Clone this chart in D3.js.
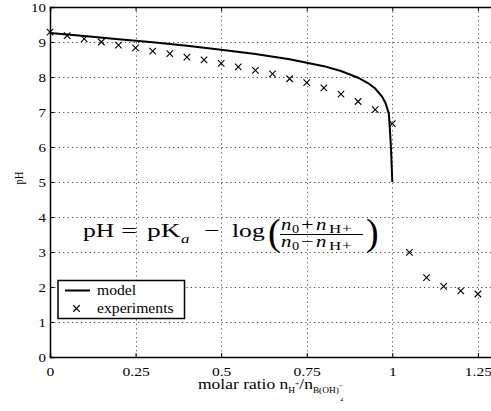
<!DOCTYPE html>
<meta charset="utf-8">
<body style="margin:0">
<script src="https://d3js.org/d3.v7.min.js"></script>
<script>
// experiment points (molar ratio, pH)
var expRatio = [0, 0.05, 0.1, 0.15, 0.2, 0.25, 0.3, 0.35, 0.4, 0.45, 0.5, 0.55, 0.6, 0.65,
                0.7, 0.75, 0.8, 0.85, 0.9, 0.95, 1.0, 1.05, 1.1, 1.15, 1.2, 1.25];
var expPH = [9.28, 9.18, 9.09, 9.0, 8.91, 8.83, 8.74, 8.67, 8.57, 8.49, 8.39, 8.29, 8.19, 8.09,
             7.95, 7.84, 7.69, 7.51, 7.30, 7.07, 6.67, 2.99, 2.27, 2.02, 1.89, 1.80];

// model curve
var modelRatio = [0, 0.1, 0.2, 0.3, 0.4, 0.5, 0.6, 0.7, 0.75, 0.8, 0.85, 0.9, 0.93, 0.95,
                  0.97, 0.98, 0.99, 0.993, 0.996, 1.0];
var modelPH = [9.26, 9.17, 9.08, 8.99, 8.89, 8.78, 8.66, 8.51, 8.41, 8.31, 8.17, 7.98, 7.82, 7.67,
               7.44, 7.26, 6.95, 6.5, 6.0, 5.0];

var xTicks = [0, 0.25, 0.5, 0.75, 1, 1.25];
var xTickLabels = ["0", "0.25", "0.5", "0.75", "1", "1.25"];
var yTicks = [0, 1, 2, 3, 4, 5, 6, 7, 8, 9, 10];

var W = 491, H = 411;
var margin = {top: 7, left: 50, bottom: 54, right: -4};
var iw = W - margin.left - margin.right,
    ih = H - margin.top - margin.bottom;

var svg = d3.select("body").append("svg")
    .attr("width", W)
    .attr("height", H)
    .style("font-family", "'Liberation Serif', 'Times New Roman', serif");

var x = d3.scaleLinear().domain([0, 1.3]).range([margin.left, margin.left + iw]);
var y = d3.scaleLinear().domain([0, 10]).range([margin.top + ih, margin.top]);

// dotted grid
svg.append("g").selectAll("line").data(xTicks.slice(1)).enter().append("line")
    .attr("x1", function(d) { return Math.round(x(d)) + 0.5; })
    .attr("x2", function(d) { return Math.round(x(d)) + 0.5; })
    .attr("y1", margin.top).attr("y2", margin.top + ih)
    .attr("stroke", "#555").attr("stroke-width", 1)
    .attr("stroke-dasharray", "1.2,3.2");
svg.append("g").selectAll("line").data(yTicks.slice(1, -1)).enter().append("line")
    .attr("y1", function(d) { return Math.round(y(d)) + 0.5; })
    .attr("y2", function(d) { return Math.round(y(d)) + 0.5; })
    .attr("x1", margin.left).attr("x2", W)
    .attr("stroke", "#444").attr("stroke-width", 1)
    .attr("stroke-dasharray", "1.2,3.2");

// axes with inward ticks
var xAxis = svg.append("g")
    .attr("transform", "translate(0," + (margin.top + ih) + ")")
    .call(d3.axisBottom(x).tickValues(xTicks).tickSize(-4).tickPadding(7)
      .tickFormat(function(d, i) { return xTickLabels[i]; }));
var xTop = svg.append("g")
    .attr("transform", "translate(0," + margin.top + ")")
    .call(d3.axisTop(x).tickValues(xTicks).tickSize(-4).tickFormat(""));
var yAxis = svg.append("g")
    .attr("transform", "translate(" + margin.left + ",0)")
    .call(d3.axisLeft(y).tickValues(yTicks).tickSize(-4).tickPadding(5));
var yRight = svg.append("g")
    .attr("transform", "translate(" + (margin.left + iw) + ",0)")
    .call(d3.axisRight(y).tickValues(yTicks).tickSize(-4).tickFormat(""));

[xAxis, xTop, yAxis, yRight].forEach(function(a) {
  a.attr("font-family", "Liberation Serif").attr("font-size", 13);
  a.select(".domain").attr("stroke", "#000").attr("stroke-width", 1.5);
  a.selectAll(".tick line").attr("stroke", "#000");
});
xAxis.selectAll(".tick text")
    .attr("y", null).attr("dy", null)
    .attr("transform", "translate(0,19) scale(1.2,1)");
yAxis.selectAll(".tick text")
    .attr("x", null).attr("dy", null)
    .attr("transform", "translate(-4,4.5) scale(1.15,1)");

// model line
var modelLine = d3.line()
    .x(function(d) { return x(d[0]); })
    .y(function(d) { return y(d[1]); });
svg.append("path")
    .datum(modelRatio.map(function(r, i) { return [r, modelPH[i]]; }))
    .attr("d", modelLine)
    .attr("fill", "none")
    .attr("stroke", "#000")
    .attr("stroke-width", 2);

// experiment crosses
var crossType = {
  draw: function(ctx, size) {
    var r = Math.sqrt(size) / 2;
    ctx.moveTo(-r, -r); ctx.lineTo(r, r);
    ctx.moveTo(-r, r); ctx.lineTo(r, -r);
  }
};
var cross = d3.symbol().type(crossType).size(42);
svg.selectAll("path.exp").data(expRatio).enter().append("path")
    .attr("class", "exp")
    .attr("transform", function(d, i) { return "translate(" + x(d) + "," + y(expPH[i]) + ")"; })
    .attr("d", cross)
    .attr("fill", "none")
    .attr("stroke", "#000")
    .attr("stroke-width", 1.1);

// helper for horizontally stretched text pieces
function txt(px, py, size, sx, str, italic) {
  return svg.append("text")
    .attr("transform", "translate(" + px + "," + py + ") scale(" + sx + ",1)")
    .style("font-size", size + "px")
    .style("font-style", italic ? "italic" : "normal")
    .text(str);
}

// equation
txt(83, 237, 19, 1.35, "pH");
txt(121, 237, 19, 1.5, "=");
txt(147, 237, 19, 1.45, "pK");
txt(181, 243, 13, 1.3, "a", true);
txt(204, 237, 19, 1.45, "\u2212");
txt(232, 237, 19, 1.35, "log");
txt(268, 245, 38, 1, "(");
[[230, 233, "+"], [247, 250, "\u2212"]].forEach(function(r) {
  txt(281, r[0], 16, 1.3, "n", true);
  txt(292, r[1], 12, 1.2, "0");
  txt(301, r[0], 16, 1.4, r[2]);
  txt(316, r[0], 16, 1.3, "n", true);
  txt(329, r[1], 13, 1.3, "H");
  txt(342, r[1], 13, 1.3, "+");
});
svg.append("line")
    .attr("x1", 280).attr("x2", 363)
    .attr("y1", 234.5).attr("y2", 234.5)
    .attr("stroke", "#000").attr("stroke-width", 1);
txt(366, 245, 38, 1, ")");

// legend
var lg = svg.append("g");
lg.append("rect")
    .attr("x", 58).attr("y", 280.5).attr("width", 126.5).attr("height", 38)
    .attr("fill", "#fff").attr("stroke", "#000").attr("stroke-width", 1.5);
lg.append("line")
    .attr("x1", 65).attr("x2", 90).attr("y1", 290.5).attr("y2", 290.5)
    .attr("stroke", "#000").attr("stroke-width", 2);
lg.append("path")
    .attr("transform", "translate(76.5,308.5)")
    .attr("d", cross).attr("fill", "none")
    .attr("stroke", "#000").attr("stroke-width", 1.1);
txt(97, 295, 14, 1.12, "model");
txt(97, 312.5, 14, 1.12, "experiments");

// axis titles
svg.append("text")
    .attr("transform", "translate(23,178) rotate(-90) scale(1,1.25)")
    .attr("text-anchor", "middle")
    .style("font-size", "10.5px")
    .text("pH");

var xl = svg.append("text")
    .attr("transform", "translate(198,389) scale(1.25,1)")
    .style("font-size", "14px");
xl.append("tspan").text("molar ratio n");
xl.append("tspan").attr("dy", 4).style("font-size", "7.5px").text("H");
xl.append("tspan").attr("dy", -7).style("font-size", "6px").text("+");
xl.append("tspan").attr("dy", 3).text("/n");
xl.append("tspan").attr("dy", 4).style("font-size", "7.5px").text("B(OH)");
xl.append("tspan").attr("dy", -5).style("font-size", "7px").text("\u2212");
xl.append("tspan").attr("dy", 13).attr("dx", -3).style("font-size", "5px").text("4");
</script>
</body>
